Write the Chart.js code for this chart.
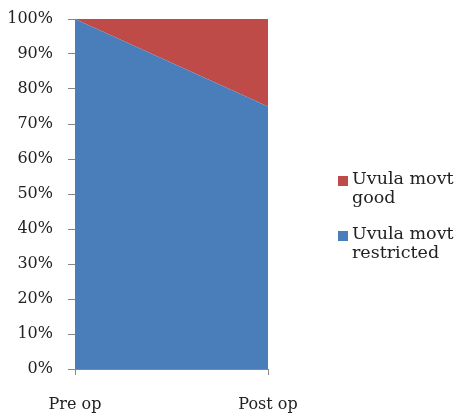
<!DOCTYPE html>
<html>
<head>
<meta charset="utf-8">
<script src="https://cdn.jsdelivr.net/npm/chart.js@4"></script>
<style>
  html, body { margin: 0; padding: 0; background: #fff; }
  #wrap { position: relative; width: 456px; height: 416px; }
  #legend { position: absolute; left: 336px; top: 169px; font-family: 'DejaVu Serif', 'Liberation Serif', serif; font-size: 17.5px; color: #222; line-height: 19px; }
  .item { position: relative; padding-left: 16px; margin-bottom: 17px; white-space: nowrap; }
  .box { position: absolute; left: 2px; top: 7px; width: 10px; height: 10px; }
</style>
</head>
<body>
<div id="wrap">
  <canvas id="c" width="456" height="416"></canvas>
  <div id="legend"></div>
</div>
<script>
// categories and series (percent of patients)
const categories = ['Pre op', 'Post op'];
const restricted = [100, 75];
const good = [0, 25];
const seriesNames = ['Uvula movt restricted', 'Uvula movt good'];
const seriesColors = ['#4A7EBB', '#BE4B48'];

const serif = "'DejaVu Serif', 'Liberation Serif', serif";
Chart.defaults.font.family = serif;
Chart.defaults.font.size = 16;
Chart.defaults.color = '#222';

const chart = new Chart(document.getElementById('c').getContext('2d'), {
    type: 'line',
    data: {
        labels: categories,
        datasets: [
            { label: seriesNames[0], data: restricted, backgroundColor: seriesColors[0], borderColor: seriesColors[0], borderWidth: 0, pointRadius: 0, fill: 'origin', tension: 0 },
            { label: seriesNames[1], data: good, backgroundColor: seriesColors[1], borderColor: seriesColors[1], borderWidth: 0, pointRadius: 0, fill: '-1', tension: 0 }
        ]
    },
    options: {
        responsive: false,
        animation: false,
        layout: { padding: { top: 19, right: 188, left: 0, bottom: 0 } },
        plugins: { legend: { display: false }, tooltip: { enabled: false } },
        scales: {
            x: {
                offset: false,
                grid: { drawOnChartArea: false, drawTicks: true, tickLength: 6, color: '#888' },
                border: { color: '#888' },
                ticks: { padding: 20, maxRotation: 0 },
                afterFit: (s) => { s.height = 47; s.paddingLeft = 0; s.paddingRight = 0; }
            },
            y: {
                stacked: true, min: 0, max: 100,
                grid: { drawOnChartArea: false, drawTicks: true, tickLength: 7, color: '#888' },
                border: { color: '#888' },
                ticks: { stepSize: 10, padding: 15, callback: (v) => v + '%' },
                afterFit: (s) => { s.width = 75; s.paddingTop = 0; s.paddingBottom = 0; }
            }
        }
    }
});

// legend, top entry is the upper series
const leg = document.getElementById('legend');
[1, 0].forEach(i => {
    const words = seriesNames[i].split(' ');
    const d = document.createElement('div');
    d.className = 'item';
    d.innerHTML = '<span class="box" style="background:' + seriesColors[i] + '"></span>' +
        words.slice(0, 2).join(' ') + '<br>' + words.slice(2).join(' ');
    leg.appendChild(d);
});
</script>
</body>
</html>
